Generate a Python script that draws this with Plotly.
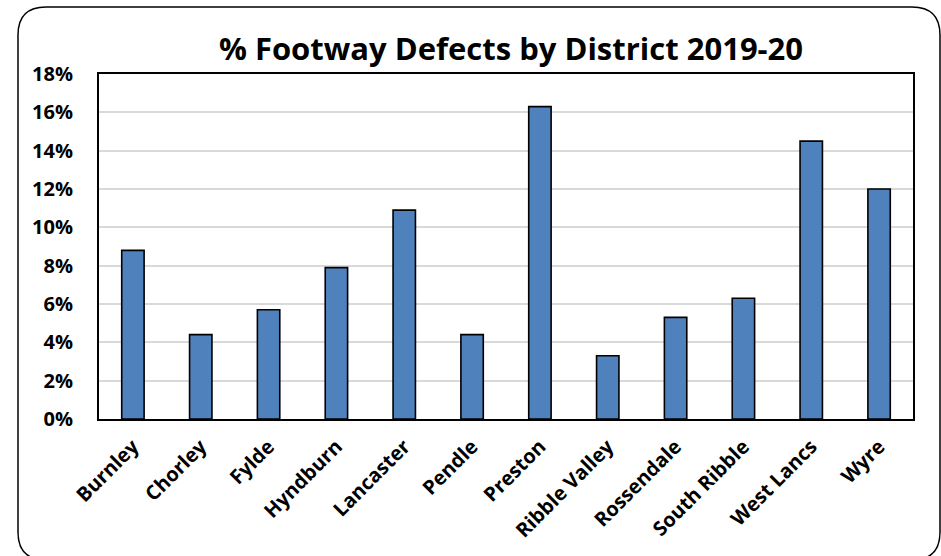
import plotly.graph_objects as go

districts = ["Burnley", "Chorley", "Fylde", "Hyndburn", "Lancaster", "Pendle",
             "Preston", "Ribble Valley", "Rossendale", "South Ribble", "West Lancs", "Wyre"]
defects_pct = [8.8, 4.4, 5.7, 7.9, 10.9, 4.4, 16.3, 3.3, 5.3, 6.3, 14.5, 12.0]
y_ticks = [0, 2, 4, 6, 8, 10, 12, 14, 16, 18]
y_tick_labels = [f"{v}%" for v in y_ticks]

W, H = 941, 556
L, R, T, B = 99, 913, 74, 419

fig = go.Figure(go.Bar(
    x=districts, y=defects_pct,
    marker=dict(color="#4f81bd", line=dict(color="black", width=1.6)),
    width=0.33,
))

def px2paper(px, py):
    return (px - L) / (R - L), (B - py) / (B - T)

x0, y0, x1, y1, r = 18, 7, 940, 560, 28
def P(px, py):
    a, b = px2paper(px, py)
    return f"{a:.5f},{b:.5f}"
path = (f"M {P(x0 + r, y0)} L {P(x1 - r, y0)} Q {P(x1, y0)} {P(x1, y0 + r)} "
        f"L {P(x1, y1 - r)} Q {P(x1, y1)} {P(x1 - r, y1)} "
        f"L {P(x0 + r, y1)} Q {P(x0, y1)} {P(x0, y1 - r)} "
        f"L {P(x0, y0 + r)} Q {P(x0, y0)} {P(x0 + r, y0)} Z")

fig.update_layout(
    width=W, height=H,
    margin=dict(l=L, r=W - R, t=T, b=H - B),
    paper_bgcolor="white", plot_bgcolor="white",
    font=dict(family="Open Sans", color="black"),
    title=dict(text="<b>% Footway Defects by District 2019-20</b>",
               x=511 / W, xanchor="center", y=1 - 49 / H, yanchor="middle",
               font=dict(size=31, family="Open Sans", color="black")),
    showlegend=False,
    shapes=[dict(type="path", path=path, xref="paper", yref="paper",
                 line=dict(color="black", width=1.5), fillcolor="rgba(0,0,0,0)", layer="below")],
    bargap=0.67,
)
fig.update_yaxes(range=[0, 18], tickvals=y_ticks, ticktext=[f"<b>{t}</b>" for t in y_tick_labels],
                 showgrid=True, gridcolor="#d9d9d9", gridwidth=2,
                 showline=True, linecolor="black", linewidth=2, mirror=True,
                 ticks="", tickfont=dict(size=20, family="Open Sans"), zeroline=False,
                 ticklabelstandoff=20)
fig.update_xaxes(tickvals=districts, ticktext=[f"<b>{d}</b>" for d in districts],
                 tickangle=-45, showline=True, linecolor="black", linewidth=2, mirror=True,
                 ticks="", tickfont=dict(size=20, family="Open Sans"),
                 ticklabelstandoff=6)

fig.write_html("out.html")
